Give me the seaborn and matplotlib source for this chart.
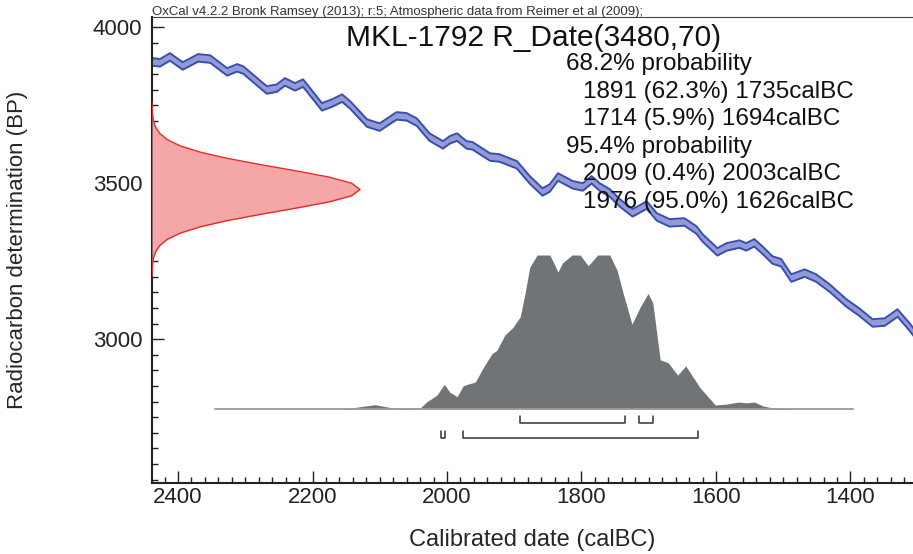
import matplotlib
matplotlib.use('Agg')

import matplotlib.pyplot as plt
import seaborn as sns
import pandas as pd
from matplotlib.ticker import MultipleLocator

# calibration curve (IntCal09)
cal_year = [2439, 2427, 2412, 2393, 2370, 2352, 2327, 2312, 2303,
            2268, 2253, 2241, 2226, 2214, 2186, 2171, 2156, 2144,
            2119, 2100, 2075, 2060, 2045, 2026, 2006, 1996, 1985,
            1971, 1962, 1936, 1922, 1896, 1877, 1858, 1847, 1835,
            1813, 1798, 1785, 1773, 1758, 1743, 1724, 1703, 1688,
            1669, 1647, 1629, 1620, 1598, 1584, 1565, 1555, 1543,
            1531, 1516, 1503, 1488, 1468, 1451, 1431, 1406, 1387,
            1367, 1349, 1330, 1312, 1300]
cal_bp = [3889, 3886, 3905, 3876, 3902, 3898, 3857, 3870, 3863,
          3799, 3805, 3825, 3809, 3821, 3745, 3757, 3773, 3751,
          3693, 3680, 3716, 3713, 3696, 3648, 3623, 3639, 3648,
          3623, 3620, 3584, 3581, 3559, 3511, 3472, 3485, 3520,
          3495, 3488, 3511, 3488, 3469, 3437, 3405, 3430, 3392,
          3373, 3376, 3350, 3325, 3280, 3296, 3305, 3296, 3309,
          3286, 3254, 3245, 3196, 3212, 3196, 3164, 3116, 3087,
          3052, 3055, 3084, 3039, 3005]
cal_err = 12

# calibrated probability (relative)
prob_year = [2345, 2159, 2137, 2107, 2085, 2070, 2040, 2030, 2015, 2004,
             1996, 1985, 1976, 1970, 1958, 1946, 1933, 1926, 1914, 1902,
             1891, 1884, 1877, 1866, 1847, 1835, 1828, 1814, 1802, 1790,
             1776, 1758, 1747, 1738, 1732, 1725, 1713, 1701, 1694, 1683,
             1671, 1657, 1645, 1624, 1601, 1584, 1567, 1554, 1543, 1530,
             1515, 1475, 1396]
prob_rel = [0, 0, 0.01, 0.028, 0.01, 0.005, 0.006, 0.047, 0.09, 0.16,
            0.11, 0.08, 0.15, 0.16, 0.175, 0.27, 0.36, 0.38, 0.48, 0.53,
            0.60, 0.75, 0.92, 1.0, 1.0, 0.89, 0.95, 1.0, 1.0, 0.93,
            1.0, 1.0, 0.90, 0.75, 0.66, 0.55, 0.66, 0.75, 0.69, 0.32,
            0.30, 0.22, 0.28, 0.14, 0.026, 0.032, 0.045, 0.04, 0.045, 0.02,
            0.006, 0, 0]

# radiocarbon date R_Date(3480,70)
date_bp = [3760, 3740, 3720, 3700, 3680, 3660, 3640, 3620, 3600, 3580,
           3560, 3540, 3520, 3500, 3480, 3460, 3440, 3420, 3400, 3380,
           3360, 3340, 3320, 3300, 3280, 3260, 3240, 3220, 3200]
date_rel = [0.0, 0.001, 0.003, 0.007, 0.017, 0.037, 0.073, 0.135, 0.23, 0.36,
            0.52, 0.69, 0.85, 0.96, 1.0, 0.96, 0.85, 0.69, 0.52, 0.36,
            0.23, 0.135, 0.073, 0.037, 0.017, 0.007, 0.003, 0.001, 0.0]

# hpd ranges
r68_from = [1891, 1714]
r68_to = [1735, 1694]
r68_pct = [62.3, 5.9]
r95_from = [2009, 1976]
r95_to = [2003, 1626]
r95_pct = [0.4, 95.0]

title = 'MKL-1792 R_Date(3480,70)'
header = ('OxCal v4.2.2 Bronk Ramsey (2013); r:5; '
          'Atmospheric data from Reimer et al (2009);')

sns.set_style('ticks')
plt.rcParams['font.family'] = ['Liberation Sans', 'DejaVu Sans']

fig = plt.figure(figsize=(9.13, 5.54), dpi=100)
ax = fig.add_axes([152 / 913, 71 / 554, 761 / 913, 466 / 554])

cal = pd.DataFrame({'year': cal_year, 'bp': cal_bp})
cal['lo'] = cal['bp'] - cal_err
cal['hi'] = cal['bp'] + cal_err
ax.fill_between(cal['year'], cal['lo'], cal['hi'],
                color='#959ad4', lw=0, zorder=1)
sns.lineplot(data=cal, x='year', y='lo', ax=ax, color='#3550b0',
             lw=1.4, sort=False, estimator=None, zorder=2)
sns.lineplot(data=cal, x='year', y='hi', ax=ax, color='#3550b0',
             lw=1.4, sort=False, estimator=None, zorder=2)

ax.set_xlim(2438.7, 1307)
ax.set_ylim(2539, 4033)
ax.xaxis.set_major_locator(MultipleLocator(200))
ax.xaxis.set_minor_locator(MultipleLocator(20))
ax.yaxis.set_major_locator(MultipleLocator(500))
ax.yaxis.set_minor_locator(MultipleLocator(50))
ax.tick_params(which='both', direction='in', colors='#222222',
               top=False, right=False, width=1.0)
ax.tick_params(which='major', length=8.5, labelsize=16)
ax.tick_params(which='minor', length=4.3)
ax.tick_params(axis='x', pad=3)
ax.tick_params(axis='y', pad=7)
for side in ['left', 'bottom']:
    ax.spines[side].set_linewidth(1.5)
    ax.spines[side].set_color('#222222')
ax.spines['top'].set_linewidth(0.8)
ax.spines['top'].set_color('#444444')
ax.spines['right'].set_visible(False)

ax.set_xlabel('Calibrated date (calBC)', fontsize=17)
ax.set_ylabel('Radiocarbon determination (BP)', fontsize=16)
ax.xaxis.set_label_coords(0.5, -57 / 466)
ax.xaxis.label.set_va('center')
ax.yaxis.set_label_coords(-134 / 761, 0.5)
ax.yaxis.label.set_va('center')

# calibrated distribution on its own y scale
axp = ax.twinx()
axp.set_ylim(-74 / 154, 392 / 154)
axp.axis('off')
prob = pd.DataFrame({'year': prob_year, 'p': prob_rel})
axp.fill_between(prob['year'], 0, prob['p'], color='#707476', lw=0)
axp.plot([prob_year[0], prob_year[-1]], [0, 0], color='#9a9a9a', lw=1.3)

tick_h = 0.045


def draw_range(y, starts, ends):
    for a, b in zip(starts, ends):
        axp.plot([a, a, b, b], [y + tick_h, y, y, y + tick_h],
                 color='#333333', lw=1.1)


draw_range(-0.091, r68_from, r68_to)
draw_range(-0.188, r95_from, r95_to)

# radiocarbon date on its own x scale
axr = ax.twiny()
axr.set_xlim(0, 761 / 208)
axr.axis('off')
axr.fill_betweenx(date_bp, 0, date_rel, color='#f5a6a6', lw=0)
sns.lineplot(x=date_rel, y=date_bp, ax=axr, color='#e82a2a', lw=1.0,
             sort=False, estimator=None)

# texts
ax.text(382 / 761, 437 / 466, title, transform=ax.transAxes,
        fontsize=21.5, ha='center', va='baseline', color='#111111')
lines = ['68.2% probability']
lines += [f'{a} ({p:.1f}%) {b}calBC'
          for a, b, p in zip(r68_from, r68_to, r68_pct)]
lines += ['95.4% probability']
lines += [f'{a} ({p:.1f}%) {b}calBC'
          for a, b, p in zip(r95_from, r95_to, r95_pct)]
y0 = 413 / 466
step = 27.6 / 466
for i, s in enumerate(lines):
    x = 414 / 761 if 'probability' in s else 431 / 761
    ax.text(x, y0 - i * step, s, transform=ax.transAxes, fontsize=17.5,
            ha='left', va='baseline', color='#111111', zorder=5)

fig.text(152 / 913, 1 - 15 / 554, header, fontsize=9.5,
         family=['Liberation Sans Narrow', 'Liberation Sans'],
         color='#333333', va='baseline')

fig.savefig('out.png', dpi=100)
